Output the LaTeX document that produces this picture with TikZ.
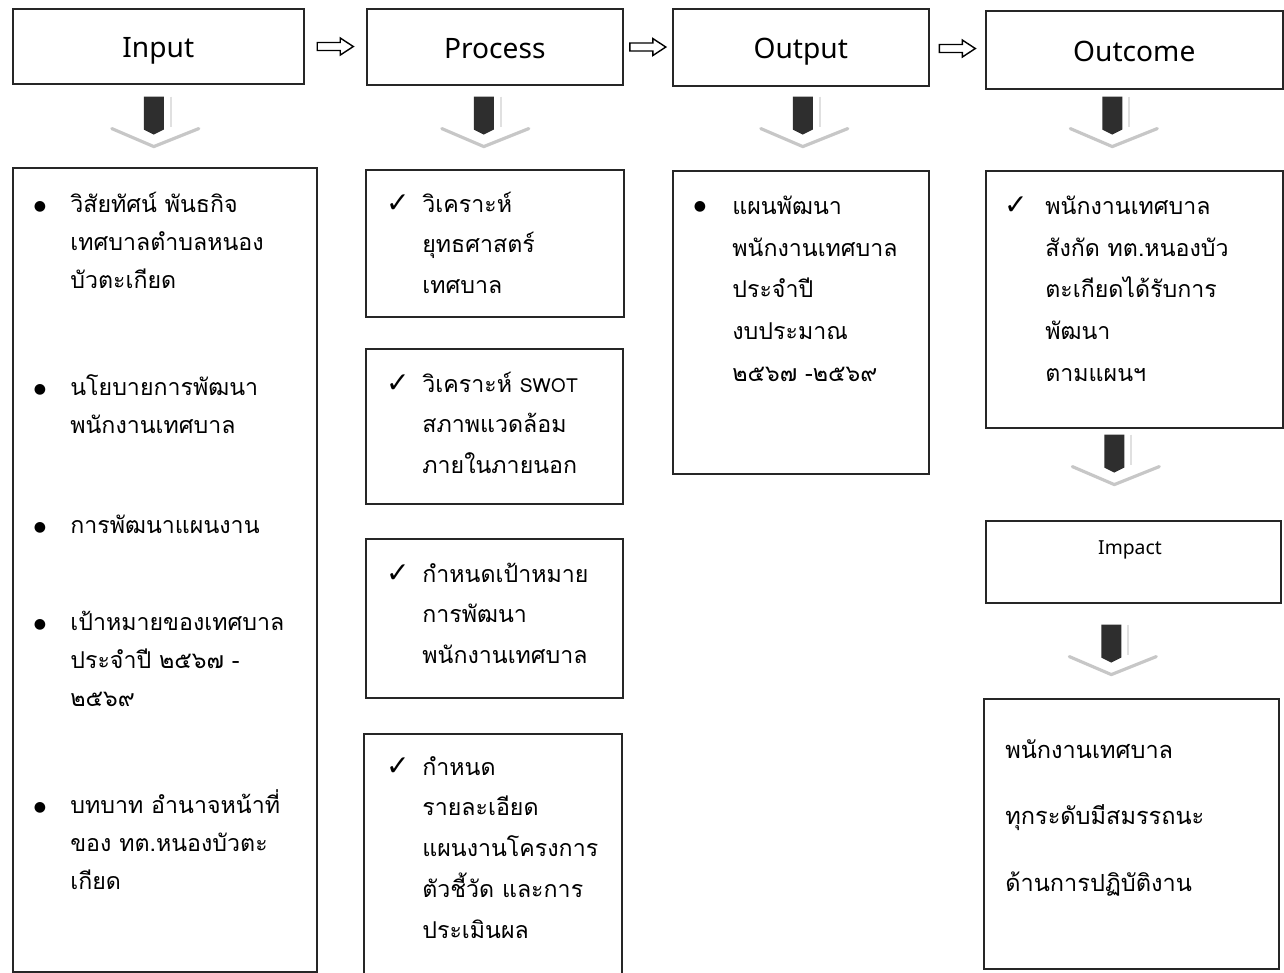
\documentclass[tikz,border=0pt]{standalone}
\usepackage{fontspec}
\setmainfont{Noto Sans}
\newfontfamily\thai[Script=Thai]{Loma}
\newfontfamily\dejavu{DejaVu Sans}
\newcommand\mybox[6]{\node[box, minimum width={(#4-#2)*0.02cm}, minimum height={(#5-#3)*0.02cm}] (#1) at (#2,#3) {#6};}
\newcommand\hd[1]{\fontsize{16}{19}\selectfont\rule[-3.5pt]{0pt}{20pt}#1}
\begin{document}
\begin{tikzpicture}[x=0.02cm,y=-0.02cm,
  box/.style={draw=black!85, line width=0.9pt, inner sep=0pt, anchor=north west, fill=white},
  itemA/.style={anchor=north west, align=left, inner sep=0pt, font=\thai\fontsize{13.2}{21.8}\selectfont},
  itemB/.style={anchor=north west, align=left, inner sep=0pt, font=\thai\fontsize{13.2}{23.3}\selectfont},
  itemC/.style={anchor=north west, align=left, inner sep=0pt, font=\thai\fontsize{13.2}{23.7}\selectfont},
  itemD/.style={anchor=north west, align=left, inner sep=0pt, font=\thai\fontsize{13.4}{38}\selectfont},
  bul/.style={inner sep=0pt, font=\dejavu\fontsize{8}{8}\selectfont},
  chk/.style={inner sep=0pt, font=\dejavu\fontsize{16}{16}\selectfont},
  darr/.pic={
    \draw[line width=1pt, black!12] (17,0) -- (17,30);
    \draw[line width=1.8pt, black!22, line cap=round, line join=round] (-42,32) -- (0,50) -- (45,32);
    \fill[black!82] (-10,0) -- (10,0) -- (10,33) -- (0,38) -- (-10,33) -- cycle;
  },
  harr/.pic={
    \draw[line width=0.8pt, black] (-18,-4) -- (5,-4) -- (5,-8.5) -- (18,0) -- (5,8.5) -- (5,4) -- (-18,4) -- cycle;
  }
]
\useasboundingbox (0,0) rectangle (1284,973);
\fill[white] (0,0) rectangle (1284,973);

% header boxes
\mybox{inh}{12}{8}{303}{83}{\hd{Input}}
\mybox{prh}{366}{8}{622}{84}{\hd{Process}}
\mybox{ouh}{672}{8}{928}{85}{\hd{Output}}
\mybox{och}{985}{10}{1282}{88}{\hd{Outcome}}

% horizontal arrows
\path (inh.east) -- coordinate[midway] (h1) (prh.west);
\path (prh.east) -- coordinate[midway] (h2) (ouh.west);
\path (ouh.east) -- coordinate[midway] (h3) (och.west);
\pic at (h1) {harr};
\pic at (h2) {harr};
\pic at (h3) {harr};

% content boxes
\mybox{inb}{12}{167}{316}{971}{}
\mybox{pb1}{365}{169}{623}{316}{}
\mybox{pb2}{365}{348}{622}{503}{}
\mybox{pb3}{365}{538}{622}{697}{}
\mybox{pb4}{363}{733}{621}{975}{}
\mybox{oub}{672}{170}{928}{473}{}
\mybox{ocb}{985}{170}{1282}{427}{}
\mybox{imp}{985}{520}{1280}{602}{}
\mybox{fin}{983}{698}{1278}{968}{}

% down arrows
\path (inh.south) ++(-4.5,12) pic {darr};
\path (prh.south) ++(-11,11) pic {darr};
\path (ouh.south) ++(2,10) pic {darr};
\path (och.south) ++(-22,7) pic {darr};
\path (ocb.south) ++(-20,6) pic {darr};
\path (imp.south) ++(-22,21) pic {darr};

% Input items
\node[bul] (b1) at (40,207) {●};
\node[itemA] (i1) at (70,185) {\strut วิสัยทัศน์  พันธกิจ\\เทศบาลตำบลหนอง\\บัวตะเกียด};
\node[bul] (b2) at (40,390) {●};
\node[itemA] (i2) at (70,368) {\strut นโยบายการพัฒนา\\พนักงานเทศบาล};
\node[bul] (b3) at (40,528) {●};
\node[itemA] (i3) at (70,506) {\strut การพัฒนาแผนงาน};
\node[bul] (b4) at (40,625) {●};
\node[itemA] (i4) at (70,603) {\strut เป้าหมายของเทศบาล\\ประจำปี ๒๕๖๗ -\\๒๕๖๙};
\node[bul] (b5) at (40,808) {●};
\node[itemA] (i5) at (70,786) {\strut บทบาท อำนาจหน้าที่\\ของ  ทต.หนองบัวตะ\\เกียด};

% Process items
\node[chk] (c1) at (398,204) {✓};
\node[itemB] (p1) at (422,183) {\strut วิเคราะห์\\ยุทธศาสตร์\\เทศบาล};
\node[chk] (c2) at (398,384) {✓};
\node[itemB] (p2) at (422,363) {\strut วิเคราะห์ {\fontsize{11}{11}\selectfont SWOT}\\สภาพแวดล้อม\\ภายในภายนอก};
\node[chk] (c3) at (398,574) {✓};
\node[itemB] (p3) at (422,553) {\strut กำหนดเป้าหมาย\\การพัฒนา\\พนักงานเทศบาล};
\node[chk] (c4) at (398,767) {✓};
\node[itemB] (p4) at (422,746) {\strut กำหนด\\รายละเอียด\\แผนงานโครงการ\\ตัวชี้วัด และการ\\ประเมินผล};

% Output item
\node[bul] (b6) at (700,207) {●};
\node[itemC] (o1) at (732,185) {\strut แผนพัฒนา\\พนักงานเทศบาล\\ประจำปี\\งบประมาณ\\๒๕๖๗ -๒๕๖๙};

% Outcome item
\node[chk] (c5) at (1016,206) {✓};
\node[itemC] (q1) at (1045,185) {\strut พนักงานเทศบาล\\สังกัด ทต.หนองบัว\\ตะเกียดได้รับการ\\พัฒนา\\ตามแผนฯ};

% Impact
\node[font=\fontsize{11}{13}\selectfont, inner sep=0pt] (impt) at (1130,550) {Impact};

% final
\node[itemD] (f1) at (1005,711) {\strut พนักงานเทศบาล\\ทุกระดับมีสมรรถนะ\\ด้านการปฏิบัติงาน};
\end{tikzpicture}
\end{document}
